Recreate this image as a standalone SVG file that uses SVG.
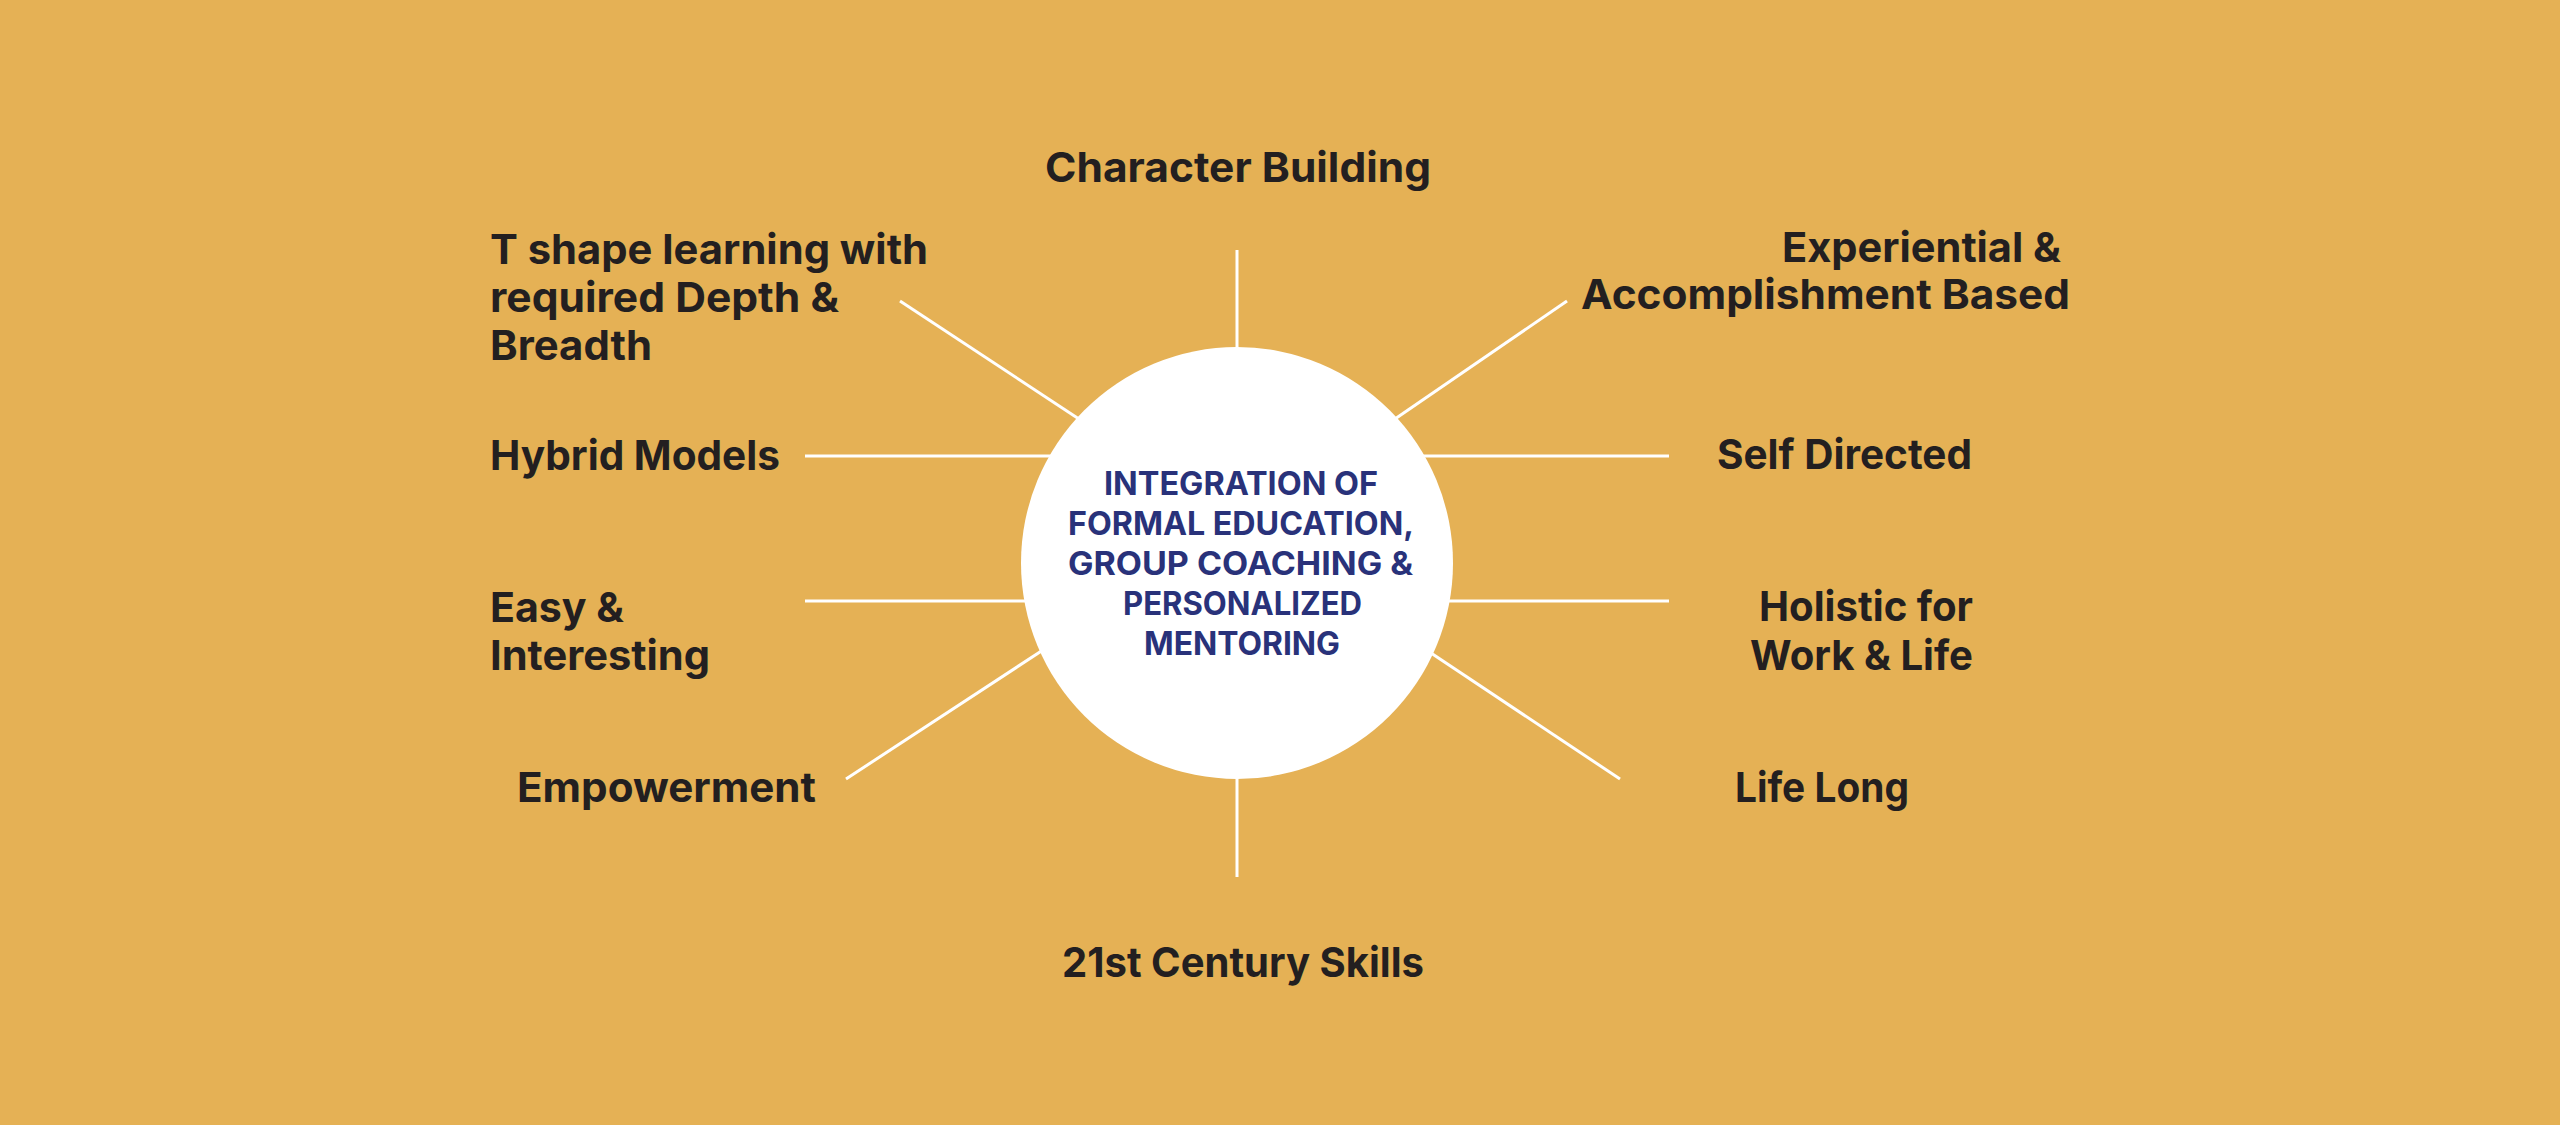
<svg xmlns="http://www.w3.org/2000/svg" width="2560" height="1125" viewBox="0 0 2560 1125">
<style>
.lbl{font-family:Inter,"Noto Sans","Liberation Sans",sans-serif;font-weight:700;font-size:41px;fill:#231F20}
.ctr{font-family:Inter,"Noto Sans","Liberation Sans",sans-serif;font-weight:700;font-size:32px;fill:#29327A}
.ln{stroke:#FFFFFF;stroke-width:3;fill:none}
</style>
<rect width="2560" height="1125" fill="#E5B155"/>
<g id="connectors">
<line class="ln" x1="1237" y1="250" x2="1237" y2="360"/>
<line class="ln" x1="1237" y1="766" x2="1237" y2="877"/>
<line class="ln" x1="900" y1="301" x2="1082" y2="421"/>
<line class="ln" x1="1567" y1="301" x2="1392" y2="421"/>
<line class="ln" x1="805" y1="456" x2="1060" y2="456"/>
<line class="ln" x1="1414" y1="456" x2="1669" y2="456"/>
<line class="ln" x1="805" y1="601" x2="1060" y2="601"/>
<line class="ln" x1="1414" y1="601" x2="1669" y2="601"/>
<line class="ln" x1="846" y1="779" x2="1046" y2="648"/>
<line class="ln" x1="1620" y1="779" x2="1428" y2="651"/>
</g>
<g id="center">
<circle cx="1237" cy="563" r="216" fill="#FFFFFF"/>
<text class="ctr" x="1104" y="495" textLength="274" lengthAdjust="spacingAndGlyphs">INTEGRATION OF</text>
<text class="ctr" x="1068" y="535" textLength="346" lengthAdjust="spacingAndGlyphs">FORMAL EDUCATION,</text>
<text class="ctr" x="1068" y="575" textLength="345" lengthAdjust="spacingAndGlyphs">GROUP COACHING &amp;</text>
<text class="ctr" x="1123" y="615" textLength="239" lengthAdjust="spacingAndGlyphs">PERSONALIZED</text>
<text class="ctr" x="1144" y="655" textLength="196" lengthAdjust="spacingAndGlyphs">MENTORING</text>
</g>
<g id="character-building">
<text class="lbl" x="1045" y="182" textLength="386" lengthAdjust="spacingAndGlyphs">Character Building</text>
</g>
<g id="t-shape">
<text class="lbl" x="490" y="264" textLength="438" lengthAdjust="spacingAndGlyphs">T shape learning with</text>
<text class="lbl" x="490" y="312" textLength="349" lengthAdjust="spacingAndGlyphs">required Depth &amp;</text>
<text class="lbl" x="490" y="360" textLength="162" lengthAdjust="spacingAndGlyphs">Breadth</text>
</g>
<g id="hybrid-models">
<text class="lbl" x="490" y="470" textLength="290" lengthAdjust="spacingAndGlyphs">Hybrid Models</text>
</g>
<g id="easy-interesting">
<text class="lbl" x="490" y="622" textLength="134" lengthAdjust="spacingAndGlyphs">Easy &amp;</text>
<text class="lbl" x="490" y="670" textLength="220" lengthAdjust="spacingAndGlyphs">Interesting</text>
</g>
<g id="empowerment">
<text class="lbl" x="517" y="802" textLength="299" lengthAdjust="spacingAndGlyphs">Empowerment</text>
</g>
<g id="experiential">
<text class="lbl" x="1782" y="262" textLength="279" lengthAdjust="spacingAndGlyphs">Experiential &amp;</text>
<text class="lbl" x="1581" y="309" textLength="489" lengthAdjust="spacingAndGlyphs">Accomplishment Based</text>
</g>
<g id="self-directed">
<text class="lbl" x="1717" y="469" textLength="255" lengthAdjust="spacingAndGlyphs">Self Directed</text>
</g>
<g id="holistic">
<text class="lbl" x="1759" y="621" textLength="214" lengthAdjust="spacingAndGlyphs">Holistic for</text>
<text class="lbl" x="1750" y="670" textLength="223" lengthAdjust="spacingAndGlyphs">Work &amp; Life</text>
</g>
<g id="life-long">
<text class="lbl" x="1735" y="802" textLength="174" lengthAdjust="spacingAndGlyphs">Life Long</text>
</g>
<g id="21st-century">
<text class="lbl" x="1062" y="977" textLength="362" lengthAdjust="spacingAndGlyphs">21st Century Skills</text>
</g>
</svg>
